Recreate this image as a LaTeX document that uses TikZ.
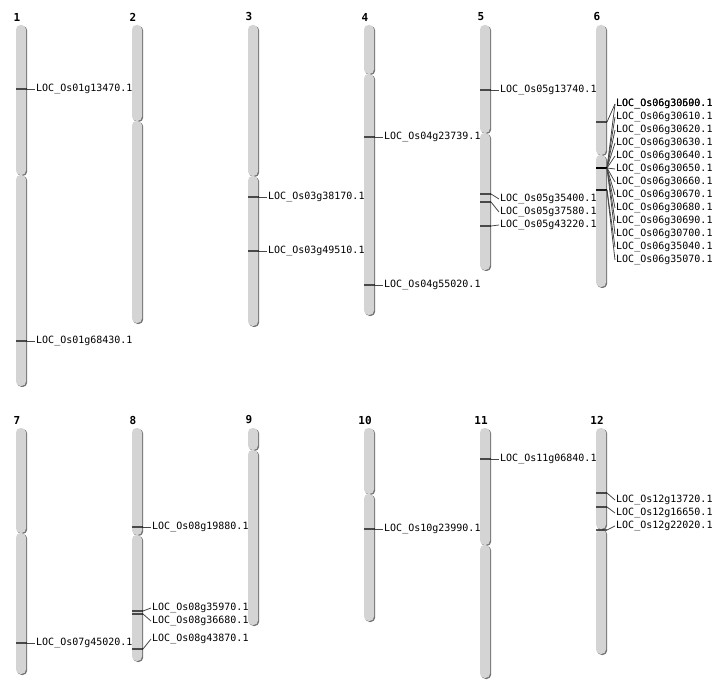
\documentclass[tikz,border=0pt]{standalone}
\usepackage{fontspec}
\setmonofont{DejaVu Sans Mono}
\tikzset{
	chrom/.style={fill=black!17, rounded corners=4.5pt},
	chromshade/.style={fill=black!55, rounded corners=4.5pt},
	tick/.style={draw=black, draw opacity=0.65, line width=1.2pt},
	lead/.style={draw=black!72, line width=0.8pt},
	gene/.style={anchor=west, inner sep=1pt, font=\ttfamily\fontsize{10}{12}\selectfont},
	chrnum/.style={font=\ttfamily\bfseries\fontsize{11}{13}\selectfont}
}
\newcommand{\chromosome}[6]{%
	\fill[chromshade] (#2+1.2,#3+1) rectangle (#2+11.2,#4+1);
	\fill[chromshade] (#2+1.2,#4+1) rectangle (#2+11.2,#5+1);
	\fill[chrom] (#2,#3) rectangle (#2+10,#4);
	\fill[chrom] (#2,#4) rectangle (#2+10,#5);
	\node[chrnum] (c#1) at (#2+1,#3-8) {#6};
}
\begin{document}
\begin{tikzpicture}[x=1pt, y=-1pt]
	\useasboundingbox (0,0) rectangle (712,700);
	\chromosome{1}{16}{25}{175}{386}{1}
	\chromosome{2}{132}{25}{121}{323}{2}
	\chromosome{3}{248}{25}{176}{326}{3}
	\chromosome{4}{364}{25}{74}{315}{4}
	\chromosome{5}{480}{25}{133}{270}{5}
	\chromosome{6}{596}{25}{155}{287}{6}
	\chromosome{7}{16}{428}{533}{674}{7}
	\chromosome{8}{132}{428}{535}{661}{8}
	\chromosome{9}{248}{428}{450}{625}{9}
	\chromosome{10}{364}{428}{494}{621}{10}
	\chromosome{11}{480}{428}{545}{678}{11}
	\chromosome{12}{596}{428}{529}{654}{12}
	\foreach \cx/\my/\ly/\locus [count=\i] in {
		16/89/89/01g13470, 16/341/341/01g68430,
		248/197/197/03g38170, 248/251/251/03g49510,
		364/137/137/04g23739, 364/285/285/04g55020,
		480/90/90/05g13740, 480/194/199/05g35400, 480/202/212/05g37580, 480/226/225/05g43220,
		596/122/104/06g30590, 596/168/104/06g30600, 596/168/117/06g30610, 596/168/130/06g30620,
		596/168/143/06g30630, 596/168/156/06g30640, 596/168/169/06g30650, 596/168/182/06g30660,
		596/168/195/06g30670, 596/168/208/06g30680, 596/168/221/06g30690, 596/168/234/06g30700,
		596/190/247/06g35040, 596/190/260/06g35070,
		16/643/643/07g45020,
		132/527/527/08g19880, 132/611/608/08g35970, 132/614/621/08g36680, 132/649/639/08g43870,
		364/529/529/10g23990,
		480/459/459/11g06840,
		596/493/500/12g13720, 596/507/513/12g16650, 596/530/526/12g22020} {
		\coordinate (m\i) at (\cx,\my);
		\node[gene] (g\i) at (\cx+19,\ly) {LOC\_Os\locus.1};
		\draw[tick] (m\i) -- ++(11,0) coordinate (k\i);
		\draw[lead] (k\i) -- (g\i.west);
	}
\end{tikzpicture}
\end{document}
